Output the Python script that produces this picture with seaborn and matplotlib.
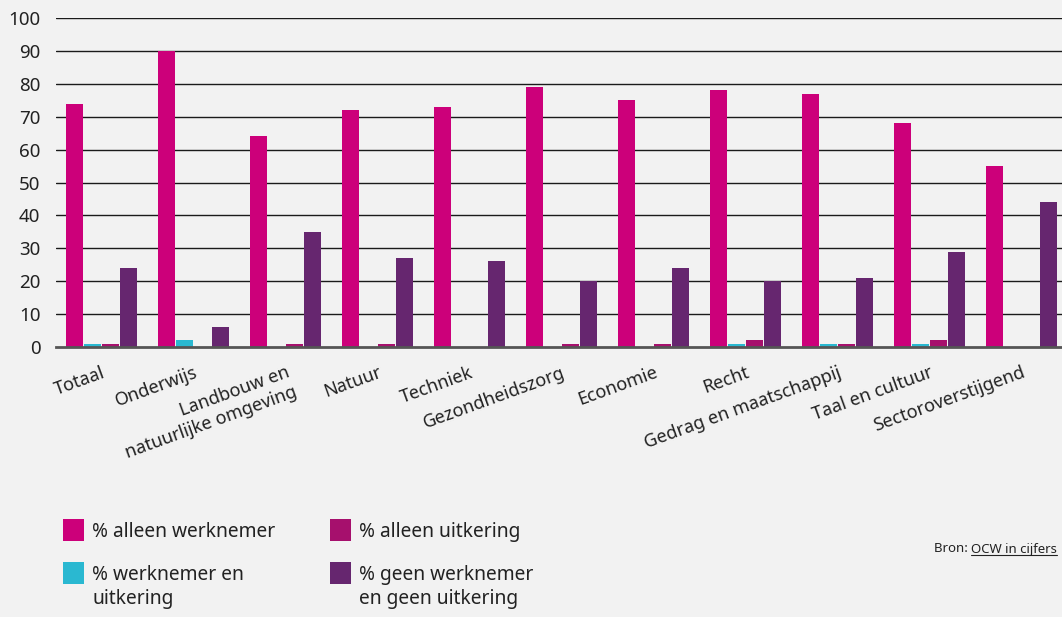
import pandas as pd
import matplotlib.pyplot as plt
import seaborn as sns
from matplotlib.patches import Rectangle

# Data
sectors = ["Totaal", "Onderwijs", "Landbouw en\nnatuurlijke omgeving", "Natuur", "Techniek",
           "Gezondheidszorg", "Economie", "Recht", "Gedrag en maatschappij",
           "Taal en cultuur", "Sectoroverstijgend"]
alleen_werknemer = [74, 90, 64, 72, 73, 79, 75, 78, 77, 68, 55]
werknemer_en_uitkering = [1, 2, 0, 0, 0, 0, 0, 1, 1, 1, 0]
alleen_uitkering = [1, 0, 1, 1, 0, 1, 1, 2, 1, 2, 0]
geen = [24, 6, 35, 27, 26, 20, 24, 20, 21, 29, 44]

series_names = ["% alleen werknemer", "% werknemer en\nuitkering",
                "% alleen uitkering", "% geen werknemer\nen geen uitkering"]
colors = ["#CC007A", "#2AB8D1", "#A6106D", "#66266F"]

rows = []
for name, vals in zip(series_names, [alleen_werknemer, werknemer_en_uitkering, alleen_uitkering, geen]):
    for s, v in zip(sectors, vals):
        rows.append({"sector": s, "reeks": name, "waarde": v})
df = pd.DataFrame(rows)

sns.set_theme(style="white")
plt.rcParams["font.family"] = ["Noto Sans", "DejaVu Sans"]
text_color = "#222222"
bg = "#F2F2F2"

fig = plt.figure(figsize=(10.62, 6.17), dpi=100, facecolor=bg)
ax = fig.add_axes([55.7 / 1062, 1 - 347 / 617, 1012 / 1062, (347 - 18) / 617])
ax.set_facecolor(bg)

sns.barplot(data=df, x="sector", y="waarde", hue="reeks", hue_order=series_names,
            order=sectors, palette=colors, width=0.78, gap=0.06, saturation=1,
            legend=False, ax=ax, zorder=3, edgecolor="none", linewidth=0)

ax.set_xlim(-0.5, len(sectors) - 0.5)
ax.set_ylim(0, 100)
ax.set_yticks(range(0, 101, 10))
ax.set_xlabel("")
ax.set_ylabel("")

# gridlines
for y in range(10, 101, 10):
    ax.axhline(y, color="#1a1a1a", lw=1.0, zorder=1)

for side in ["top", "right", "left"]:
    ax.spines[side].set_visible(False)
ax.spines["bottom"].set_color("#555555")
ax.spines["bottom"].set_linewidth(2)
ax.spines["bottom"].set_zorder(4)

ax.tick_params(axis="y", length=0, pad=11, labelsize=13.5, labelcolor=text_color)
ax.tick_params(axis="x", length=7, width=1.5, color="#333333", direction="out",
               pad=5, labelsize=13, labelcolor=text_color)
for lab in ax.get_xticklabels():
    lab.set_rotation(20)
    lab.set_ha("right")
    lab.set_va("top")
    lab.set_rotation_mode("anchor")
    lab.set_multialignment("right")

# legend (manual, two columns)
W, H = 1062, 617
legend_items = [
    (63, 519, colors[0], series_names[0]),
    (63, 562, colors[1], series_names[1]),
    (330, 519, colors[2], series_names[2]),
    (330, 562, colors[3], series_names[3]),
]
for x0, y0, c, label in legend_items:
    fig.patches.append(Rectangle((x0 / W, 1 - (y0 + 22) / H), 21 / W, 22 / H,
                                 transform=fig.transFigure, facecolor=c, edgecolor="none"))
    fig.text((x0 + 29) / W, 1 - (y0 + 3) / H, label, ha="left", va="top",
             fontsize=13.8, color=text_color, linespacing=1.28)

# source
fig.text(934 / W, 1 - 549 / H, "Bron: ", ha="left", va="center", fontsize=9.5, color=text_color)
src = fig.text(971 / W, 1 - 549 / H, "OCW in cijfers", ha="left", va="center",
               fontsize=9.5, color=text_color)
fig.canvas.draw()
bb = src.get_window_extent()
fig.add_artist(plt.Line2D([bb.x0 / W, bb.x1 / W], [(bb.y0 + 1) / H, (bb.y0 + 1) / H],
                          transform=fig.transFigure, color=text_color, lw=0.8))

fig.savefig("out.png", dpi=100, facecolor=bg)
